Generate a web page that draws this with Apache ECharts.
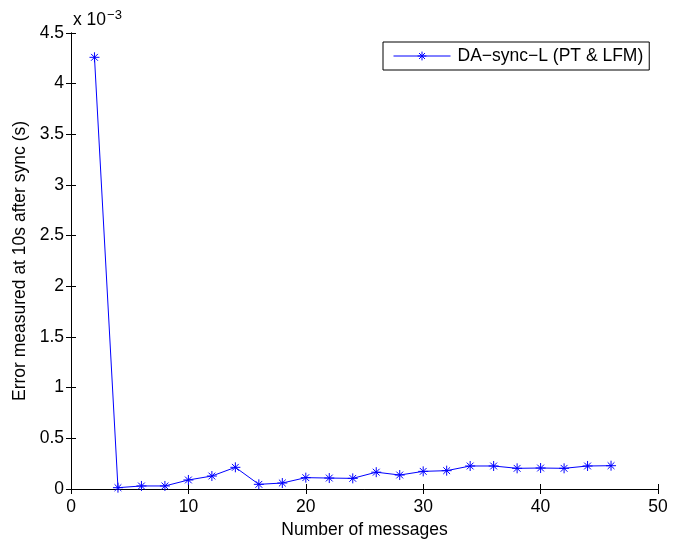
<!DOCTYPE html>
<html>
<head>
<meta charset="utf-8">
<script src="https://cdn.jsdelivr.net/npm/echarts@6/dist/echarts.min.js"></script>
<style>
  html, body { margin: 0; padding: 0; background: #fff; }
  #chart { width: 683px; height: 539px; }
</style>
</head>
<body>
<div id="chart"></div>
<script>
// Number of messages exchanged
const messages = [2, 4, 6, 8, 10, 12, 14, 16, 18, 20, 22, 24, 26, 28, 30, 32, 34, 36, 38, 40, 42, 44, 46];
// Error at 10 s after sync, in units of 1e-3 s
const errorE3 = [4.26, 0.013, 0.03, 0.03, 0.089, 0.128, 0.214, 0.046, 0.059, 0.112, 0.108, 0.105,
                 0.166, 0.138, 0.174, 0.181, 0.227, 0.227, 0.204, 0.207, 0.204, 0.227, 0.23];
const seriesName = 'DA\u2212sync\u2212L (PT & LFM)';
const xTicks = [0, 10, 20, 30, 40, 50];
const yTicks = [0, 0.5, 1, 1.5, 2, 2.5, 3, 3.5, 4, 4.5];

const FONT = '"Liberation Sans", Arial, Helvetica, sans-serif';
const FS = 17.5;
const BLUE = '#0000ff';
const asterisk = 'path://M5,0L5,10M0,5L10,5M1.6,1.6L8.4,8.4M8.4,1.6L1.6,8.4';

const chart = echarts.init(document.getElementById('chart'), null, { renderer: 'canvas' });

const boxAxis = {
  axisLine: { show: true, lineStyle: { color: '#000', width: 1 } },
  axisTick: { show: true, inside: true, length: 5, lineStyle: { color: '#000' } },
  splitLine: { show: false }
};

chart.setOption({
  animation: false,
  backgroundColor: '#fff',
  grid: { left: 71, right: 25, top: 33, bottom: 50, containLabel: false, outerBoundsMode: 'none' },
  title: {
    text: 'x 10{sup|\u22123}',
    left: 68, top: 4,
    textStyle: {
      fontFamily: FONT, fontSize: FS, fontWeight: 'normal', color: '#000',
      rich: { sup: { fontFamily: FONT, fontSize: 13, color: '#000', verticalAlign: 'top', padding: [0, 0, 10, 1] } }
    }
  },
  legend: {
    show: true,
    data: [{ name: seriesName }],
    left: 383, top: 42,
    itemWidth: 57, itemHeight: 11,
    itemGap: 6,
    padding: [5, 6, 5, 10],
    borderColor: '#000', borderWidth: 1,
    backgroundColor: '#fff',
    lineStyle: { width: 1 },
    itemStyle: { borderWidth: 1 },
    textStyle: { fontFamily: FONT, fontSize: FS, color: '#000', padding: [0, 0, 0, 2] }
  },
  xAxis: [
    Object.assign({
      type: 'value', min: 0, max: 50, interval: 10,
      name: 'Number of messages', nameLocation: 'middle', nameGap: 27,
      nameTextStyle: { fontFamily: FONT, fontSize: FS, color: '#000' },
      axisLabel: { fontFamily: FONT, fontSize: FS, color: '#000', margin: 9,
        formatter: v => xTicks.includes(v) ? String(v) : '' }
    }, boxAxis),
    Object.assign({
      type: 'value', min: 0, max: 50, interval: 10, position: 'top',
      axisLabel: { show: false }
    }, boxAxis)
  ],
  yAxis: [
    Object.assign({
      type: 'value', min: 0, max: 4.5, interval: 0.5,
      name: 'Error measured at 10s after sync (s)', nameLocation: 'middle', nameGap: 41,
      nameTextStyle: { fontFamily: FONT, fontSize: FS, color: '#000' },
      axisLabel: { fontFamily: FONT, fontSize: FS, color: '#000', margin: 7,
        formatter: v => {
          const t = yTicks.find(k => Math.abs(k - v) < 1e-9);
          return t === undefined ? '' : String(t);
        } }
    }, boxAxis),
    Object.assign({
      type: 'value', min: 0, max: 4.5, interval: 0.5, position: 'right',
      axisLabel: { show: false }
    }, boxAxis)
  ],
  series: [{
    name: seriesName,
    type: 'line',
    xAxisIndex: 0, yAxisIndex: 0,
    data: messages.map((m, i) => [m, errorE3[i]]),
    showAllSymbol: true,
    symbol: asterisk,
    symbolSize: 10,
    lineStyle: { color: BLUE, width: 1 },
    itemStyle: { color: BLUE, borderColor: BLUE, borderWidth: 1 },
    emphasis: { disabled: true }
  }]
});
</script>
</body>
</html>
